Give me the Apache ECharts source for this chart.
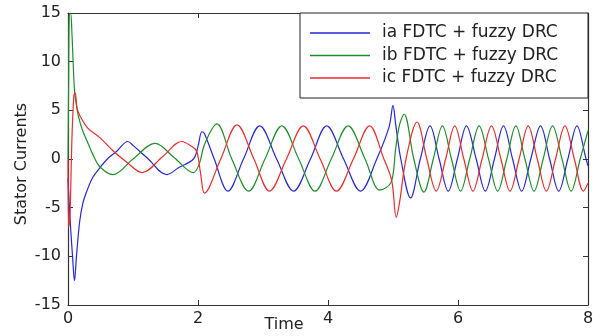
<!DOCTYPE html>
<html>
<head>
<meta charset="utf-8">
<script src="https://cdn.jsdelivr.net/npm/echarts@6.0.0/dist/echarts.min.js"></script>
<style>
  html, body { margin: 0; padding: 0; background: #fff; }
  #chart { width: 600px; height: 336px; }
</style>
</head>
<body>
<div id="chart"></div>
<script>
// phase currents [time, value]
const seriesNames = ['ia FDTC + fuzzy DRC', 'ib FDTC + fuzzy DRC', 'ic FDTC + fuzzy DRC'];

const iaData = [
  [0, -2], [0.03, -6], [0.07, -10], [0.1, -12.5], [0.13, -10], [0.18, -6.4], [0.23, -4.5],
  [0.29, -3.3], [0.38, -1.9], [0.49, -0.9], [0.62, 0.1], [0.75, 0.8], [0.92, 1.8],
  [1.0, 1.4], [1.22, 0.1], [1.52, -1.6], [1.7, -0.9], [1.93, 0], [2.0, 1.3], [2.06, 2.8],
  [2.1, 2.6], [2.25, 0], [2.46, -3.3], [2.7, 0], [2.95, 3.4], [3.21, 0], [3.47, -3.3],
  [3.73, 0], [3.98, 3.4], [4.24, 0], [4.5, -3.3], [4.75, 0], [4.94, 3.3], [5.0, 5.5],
  [5.04, 3.6], [5.12, 0], [5.27, -4.0], [5.42, 0], [5.57, 3.4], [5.71, 0], [5.85, -3.3],
  [5.99, 0], [6.13, 3.4], [6.28, 0], [6.42, -3.3], [6.56, 0], [6.7, 3.4], [6.84, 0],
  [6.98, -3.3], [7.12, 0], [7.27, 3.4], [7.41, 0], [7.55, -3.3], [7.69, 0], [7.83, 3.4],
  [7.97, 0], [8.0, -0.7]
];

const ibData = [
  [0, 0], [0.01, 8], [0.02, 14.8], [0.04, 15], [0.06, 13], [0.1, 7], [0.13, 5.5],
  [0.16, 4.4], [0.22, 3.0], [0.29, 1.9], [0.38, 0.5], [0.49, -0.8], [0.69, -1.6],
  [1.0, 0], [1.34, 1.6], [1.64, 0.1], [1.93, -1.4], [2.02, -0.5], [2.1, 1.5], [2.29, 3.6],
  [2.52, 0], [2.78, -3.3], [3.03, 0], [3.29, 3.4], [3.55, 0], [3.8, -3.3], [4.05, 0],
  [4.31, 3.4], [4.57, 0], [4.8, -3.2], [4.97, -2.4], [5.04, 1.0], [5.1, 3.5], [5.17, 4.6],
  [5.32, 0], [5.475, -3.4], [5.62, 0], [5.76, 3.4], [5.9, 0], [6.04, -3.3], [6.18, 0],
  [6.325, 3.4], [6.47, 0], [6.61, -3.3], [6.75, 0], [6.89, 3.4], [7.03, 0], [7.17, -3.3],
  [7.31, 0], [7.455, 3.4], [7.6, 0], [7.74, -3.3], [7.88, 0], [8.0, 2.9]
];

const icData = [
  [0, 0], [0.01, -7], [0.03, -6], [0.06, 2], [0.09, 6.5], [0.11, 6.8], [0.14, 5.2],
  [0.18, 4.5], [0.3, 3.2], [0.49, 2.2], [0.7, 0.8], [0.9, -0.3], [1.14, -1.4],
  [1.45, 0.2], [1.75, 1.8], [1.9, 1.3], [1.98, 0.8], [2.04, -1.5], [2.1, -3.5], [2.35, 0],
  [2.6, 3.5], [2.86, 0], [3.1, -3.3], [3.36, 0], [3.62, 3.4], [3.88, 0], [4.13, -3.3],
  [4.39, 0], [4.64, 3.4], [4.86, 0], [4.98, -2.2], [5.05, -6], [5.1, -4.5], [5.2, 0],
  [5.37, 3.8], [5.52, 0], [5.665, -3.3], [5.81, 0], [5.95, 3.4], [6.09, 0], [6.23, -3.3],
  [6.37, 0], [6.515, 3.4], [6.66, 0], [6.8, -3.3], [6.94, 0], [7.08, 3.4], [7.22, 0],
  [7.36, -3.3], [7.5, 0], [7.645, 3.4], [7.79, 0], [7.93, -3.3], [8.0, -2.5]
];

const lineColors = ['#2626d8', '#218c2c', '#ea2c2c'];
const axisColor = '#333';
const fontFamily = 'DejaVu Sans';

function axisCommon(showLabel) {
  return {
    axisLine: { show: true, onZero: false, lineStyle: { color: axisColor, width: 1.2 } },
    axisTick: { show: true, inside: true, length: 5, lineStyle: { color: axisColor } },
    axisLabel: { show: showLabel, color: '#222', fontFamily: fontFamily, fontSize: 16 },
    splitLine: { show: false }
  };
}

const chart = echarts.init(document.getElementById('chart'));

const option = {
  animation: false,
  backgroundColor: '#fff',
  grid: { left: 68, top: 13, right: 12, bottom: 31, containLabel: false, outerBoundsMode: 'none' },
  legend: {
    orient: 'vertical',
    left: 300,
    top: 13,
    padding: [10, 0, 10, 10],
    itemGap: 2.5,
    itemWidth: 60,
    itemHeight: 1.5,
    icon: 'rect',
    backgroundColor: '#fff',
    borderColor: '#222',
    borderWidth: 1,
    borderRadius: 0,
    textStyle: {
      fontFamily: fontFamily,
      fontSize: 17,
      color: '#222',
      lineHeight: 20,
      width: 206,
      padding: [0, 0, 0, 7]
    },
    data: seriesNames
  },
  xAxis: [
    Object.assign(axisCommon(true), {
      type: 'value', min: 0, max: 8, interval: 2, position: 'bottom',
      name: 'Time', nameLocation: 'middle', nameGap: 12, nameMoveOverlap: false,
      nameTextStyle: { fontFamily: fontFamily, fontSize: 16, color: '#222', padding: [0, 88, 0, 0] }
    }),
    Object.assign(axisCommon(false), {
      type: 'value', min: 0, max: 8, interval: 2, position: 'top'
    })
  ],
  yAxis: [
    Object.assign(axisCommon(true), {
      type: 'value', min: -15, max: 15, interval: 5, position: 'left',
      name: 'Stator Currents', nameLocation: 'middle', nameRotate: 90, nameGap: 38, nameMoveOverlap: false,
      nameTextStyle: { fontFamily: fontFamily, fontSize: 16, color: '#222', padding: [0, 10, 0, 0] }
    }),
    Object.assign(axisCommon(false), {
      type: 'value', min: -15, max: 15, interval: 5, position: 'right'
    })
  ],
  series: [iaData, ibData, icData].map((d, i) => ({
    name: seriesNames[i],
    type: 'line',
    data: d,
    symbol: 'none',
    smooth: 0.35,
    clip: true,
    lineStyle: { color: lineColors[i], width: 1.2 },
    itemStyle: { color: lineColors[i] }
  }))
};

option.xAxis[0].axisLabel.margin = 6;
option.yAxis[0].axisLabel.margin = 7;

chart.setOption(option);
</script>
</body>
</html>
